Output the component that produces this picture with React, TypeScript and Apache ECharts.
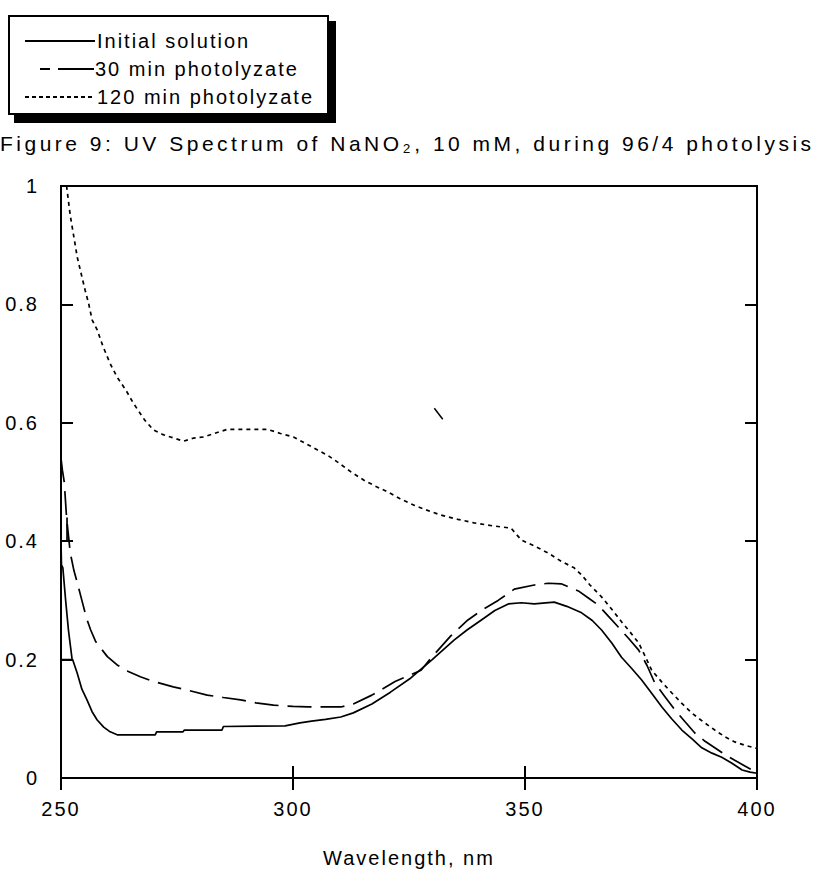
import React, { useEffect, useRef } from "react";
import * as echarts from "echarts";

const xTicks = [250, 300, 350, 400];
const yTicks = [0, 0.2, 0.4, 0.6, 0.8, 1];
const seriesNames = ["Initial solution", "30 min photolyzate", "120 min photolyzate"];
const titleText = "Figure 9: UV Spectrum of NaNO\u2082, 10 mM, during 96/4 photolysis";
const xAxisName = "Wavelength, nm";

const initialSolution: [number, number][] = [
  [251.3, 0.44], [251.3, 0.40], [250.0, 0.40], [250.1, 0.36], [250.4, 0.355], [251.0, 0.30],
  [251.6, 0.25], [252.4, 0.20], [250.0, 0.20], [252.5, 0.20], [253.5, 0.177], [254.5, 0.15],
  [255.6, 0.132], [256.7, 0.112], [257.8, 0.098], [259.2, 0.086], [260.6, 0.078], [262.1, 0.073],
  [270.3, 0.073], [270.6, 0.078], [276.3, 0.078], [276.6, 0.081], [284.7, 0.081], [285.0, 0.087],
  [298.3, 0.088], [301.5, 0.093], [304.0, 0.096], [307.0, 0.099], [310.3, 0.103], [313.0, 0.11],
  [317.0, 0.125], [321.0, 0.145], [325.4, 0.169], [330.0, 0.20], [334.7, 0.233], [337.5, 0.25],
  [340.6, 0.267], [343.5, 0.283], [346.4, 0.294], [349.2, 0.296], [352.0, 0.294], [356.3, 0.297],
  [359.0, 0.29], [362.2, 0.279], [364.5, 0.266], [366.5, 0.25], [368.7, 0.228], [370.8, 0.204],
  [373.0, 0.185], [375.1, 0.166], [377.3, 0.143], [379.5, 0.12], [381.6, 0.10], [383.8, 0.081],
  [386.0, 0.066], [388.1, 0.051], [390.3, 0.042], [392.4, 0.035], [394.6, 0.025], [396.8, 0.0135],
  [398.5, 0.01], [400.0, 0.008],
];

const photolyzate30: [number, number][] = [
  [250.0, 0.54], [250.3, 0.52], [250.7, 0.50], [251.2, 0.44], [251.6, 0.41], [252.0, 0.38],
  [252.8, 0.35], [253.5, 0.33], [254.5, 0.30], [255.5, 0.27], [256.4, 0.25], [257.5, 0.23],
  [258.4, 0.221], [260.0, 0.205], [262.1, 0.191], [264.5, 0.18], [267.1, 0.171], [270.0, 0.163],
  [274.2, 0.154], [278.0, 0.147], [281.5, 0.14], [285.0, 0.136], [288.7, 0.132], [292.0, 0.127],
  [295.8, 0.123], [300.0, 0.121], [303.2, 0.12], [310.3, 0.12], [313.0, 0.125], [317.0, 0.14],
  [322.0, 0.163], [327.6, 0.182], [330.0, 0.205], [334.0, 0.24], [337.7, 0.267], [341.0, 0.285],
  [344.2, 0.30], [347.7, 0.319], [352.0, 0.326], [355.0, 0.329], [357.8, 0.328], [361.5, 0.316],
  [363.5, 0.305], [365.8, 0.292], [368.0, 0.273], [370.1, 0.255], [372.3, 0.236], [374.5, 0.216],
  [376.3, 0.19], [378.0, 0.16], [380.2, 0.137], [382.3, 0.115], [384.5, 0.095], [386.6, 0.076],
  [388.8, 0.062], [390.9, 0.051], [393.0, 0.04], [395.2, 0.03], [397.0, 0.022], [398.9, 0.0135],
  [400.0, 0.01],
];

const photolyzate120: [number, number][] = [
  [251.2, 1.0], [252.0, 0.95], [253.5, 0.88], [254.4, 0.85], [255.2, 0.824], [256.0, 0.80],
  [256.7, 0.774], [257.8, 0.757], [259.0, 0.73], [260.6, 0.70], [262.1, 0.677], [264.0, 0.655],
  [265.6, 0.633], [268.0, 0.605], [269.9, 0.588], [272.0, 0.58], [273.6, 0.576], [276.4, 0.569],
  [278.5, 0.574], [280.7, 0.576], [283.0, 0.582], [285.9, 0.589], [290.0, 0.589], [294.5, 0.589],
  [297.3, 0.582], [300.1, 0.576], [302.5, 0.566], [305.3, 0.554], [307.5, 0.545], [309.9, 0.532],
  [312.5, 0.517], [315.3, 0.503], [318.0, 0.492], [320.5, 0.483], [323.0, 0.472], [326.0, 0.461],
  [329.0, 0.452], [331.9, 0.444], [335.5, 0.437], [339.0, 0.431], [343.0, 0.426], [347.0, 0.422],
  [349.2, 0.402], [352.0, 0.392], [355.0, 0.38], [357.8, 0.366], [360.6, 0.355], [362.2, 0.343],
  [364.0, 0.326], [366.5, 0.306], [368.7, 0.285], [370.8, 0.264], [372.7, 0.246], [374.5, 0.228],
  [376.0, 0.204], [377.3, 0.182], [379.5, 0.162], [381.6, 0.144], [383.7, 0.127], [385.9, 0.11],
  [388.4, 0.095], [390.9, 0.081], [393.0, 0.07], [395.2, 0.061], [397.5, 0.055], [400.0, 0.05],
];

const strayMark: [number, number][] = [[330.46, 0.6245], [332.27, 0.6059]];

const FONT = "'Liberation Sans', Arial, sans-serif";
const css = `
#uvchart text { letter-spacing: 2px; }
#uvchart text[style*="21px"] { letter-spacing: 3.5px; }
`;

export default function App() {
  const ref = useRef<HTMLDivElement>(null);
  useEffect(() => {
    if (!ref.current) return;
    const chart = echarts.init(ref.current, undefined, { renderer: "svg" });
    const axisTick = { inside: true, length: 12, lineStyle: { color: "#000", width: 2 } };
    const lineBase = { type: "line", showSymbol: false, symbol: "none", silent: true, clip: true };
    chart.setOption({
      animation: false,
      backgroundColor: "#fff",
      textStyle: { fontFamily: FONT },
      grid: {
        left: 61, top: 186, width: 696, height: 592, show: true,
        borderColor: "#000", borderWidth: 2, backgroundColor: "transparent",
      },
      xAxis: [
        {
          type: "value", min: xTicks[0], max: xTicks[xTicks.length - 1], interval: xTicks[1] - xTicks[0],
          position: "bottom", axisLine: { show: false }, axisTick, splitLine: { show: false },
          axisLabel: { color: "#000", fontSize: 20, fontFamily: FONT, margin: 21 },
          name: xAxisName, nameLocation: "middle", nameGap: 70,
          nameTextStyle: { color: "#000", fontSize: 20, fontFamily: FONT },
        },
        {
          type: "value", min: xTicks[0], max: xTicks[xTicks.length - 1], interval: xTicks[1] - xTicks[0],
          position: "top", axisLine: { show: false }, axisTick, splitLine: { show: false },
          axisLabel: { show: false },
        },
      ],
      yAxis: [
        {
          type: "value", min: yTicks[0], max: yTicks[yTicks.length - 1], interval: yTicks[1] - yTicks[0],
          position: "left", axisLine: { show: false }, axisTick, splitLine: { show: false },
          axisLabel: { color: "#000", fontSize: 20, fontFamily: FONT, margin: 22 },
        },
        {
          type: "value", min: yTicks[0], max: yTicks[yTicks.length - 1], interval: yTicks[1] - yTicks[0],
          position: "right", axisLine: { show: false }, axisTick, splitLine: { show: false },
          axisLabel: { show: false },
        },
      ],
      series: [
        { ...lineBase, name: seriesNames[0], data: initialSolution, lineStyle: { color: "#000", width: 1.7, type: "solid" } },
        { ...lineBase, name: seriesNames[1], data: photolyzate30, lineStyle: { color: "#000", width: 1.7, type: [24, 9] } },
        { ...lineBase, name: seriesNames[2], data: photolyzate120, lineStyle: { color: "#000", width: 1.7, type: [4, 4] } },
        { ...lineBase, name: "mark", data: strayMark, lineStyle: { color: "#000", width: 1.5, type: "solid" } },
      ],
      graphic: [
        { type: "rect", shape: { x: 14, y: 21, width: 322, height: 102 }, style: { fill: "#000" } },
        { type: "rect", shape: { x: 9, y: 16, width: 319, height: 98 }, style: { fill: "#fff", stroke: "#000", lineWidth: 2 } },
        { type: "line", shape: { x1: 25, y1: 41, x2: 95, y2: 41 }, style: { stroke: "#000", lineWidth: 2 } },
        { type: "line", shape: { x1: 40, y1: 69, x2: 50, y2: 69 }, style: { stroke: "#000", lineWidth: 2 } },
        { type: "line", shape: { x1: 58, y1: 69, x2: 94, y2: 69 }, style: { stroke: "#000", lineWidth: 2 } },
        { type: "line", shape: { x1: 25, y1: 97, x2: 95, y2: 97 }, style: { stroke: "#000", lineWidth: 2, lineDash: [4, 3] } },
        { type: "text", x: 97, y: 41, style: { text: seriesNames[0], fill: "#000", font: `20px ${FONT}`, textVerticalAlign: "middle", verticalAlign: "middle" } },
        { type: "text", x: 95, y: 69, style: { text: seriesNames[1], fill: "#000", font: `20px ${FONT}`, textVerticalAlign: "middle", verticalAlign: "middle" } },
        { type: "text", x: 97, y: 97, style: { text: seriesNames[2], fill: "#000", font: `20px ${FONT}`, textVerticalAlign: "middle", verticalAlign: "middle" } },
        { type: "text", x: 0, y: 143, style: { text: titleText, fill: "#000", font: `21px ${FONT}`, textVerticalAlign: "middle", verticalAlign: "middle" } },
      ],
    });
    return () => chart.dispose();
  }, []);
  return (
    <>
      <style>{css}</style>
      <div
        id="uvchart"
        ref={ref}
        style={{ position: "fixed", left: 0, top: 0, width: 816, height: 876, background: "#fff" }}
      />
    </>
  );
}
